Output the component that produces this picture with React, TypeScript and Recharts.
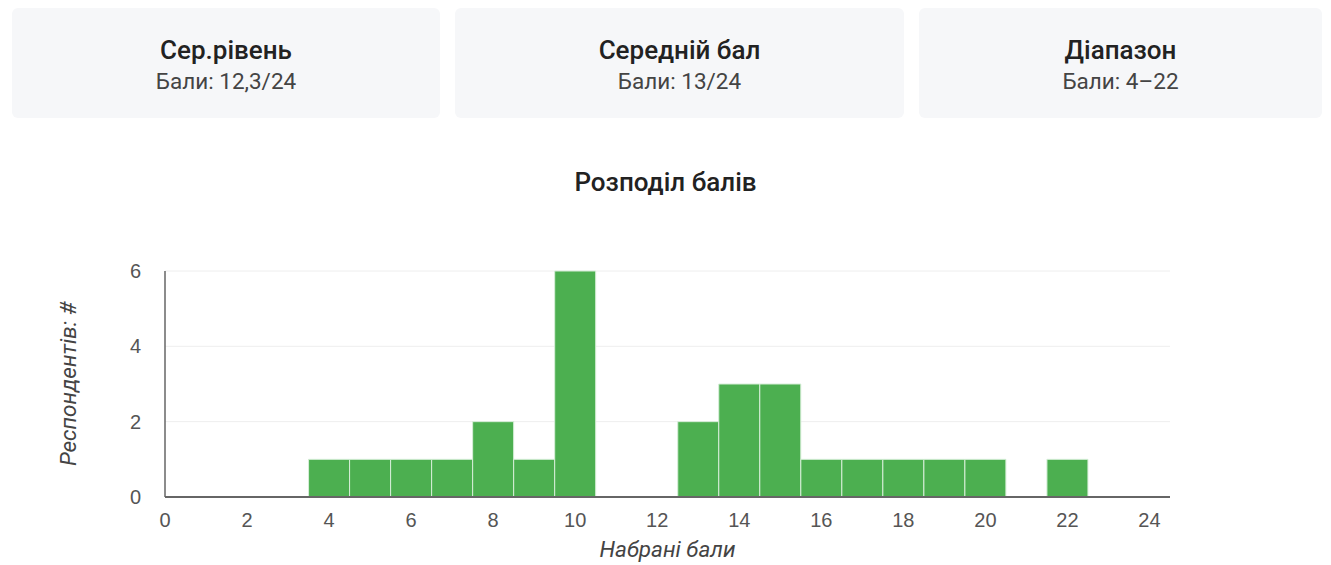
import { BarChart, Bar, XAxis, YAxis, CartesianGrid } from "recharts";

const SCORES = [0, 1, 2, 3, 4, 5, 6, 7, 8, 9, 10, 11, 12, 13, 14, 15, 16, 17, 18, 19, 20, 21, 22, 23, 24];
const COUNTS = [0, 0, 0, 0, 1, 1, 1, 1, 2, 1, 6, 0, 0, 2, 3, 3, 1, 1, 1, 1, 1, 0, 1, 0, 0];
const X_TICKS = [0, 2, 4, 6, 8, 10, 12, 14, 16, 18, 20, 22, 24];
const Y_TICKS = [0, 2, 4, 6];

const CARDS = [
    { title: "Сер.рівень", sub: "Бали: 12,3/24", width: 428 },
    { title: "Середній бал", sub: "Бали: 13/24", width: 449 },
    { title: "Діапазон", sub: "Бали: 4–22", width: 403 },
];

const data = SCORES.map((s, i) => ({ score: s, count: COUNTS[i] }));

const labelStyle = { textAnchor: "middle", fontFamily: "Roboto, sans-serif", fontStyle: "italic", fontSize: 22.5, fill: "#444" };

// tick text drawn by hand so the font size sticks
function XTick(props: any) {
    const { x, y, payload } = props;
    return (
        <text x={x} y={y + 30} textAnchor="middle" fontFamily="Liberation Sans, Arial, sans-serif" fontSize={20} fill="#555">
            {payload.value}
        </text>
    );
}

function YTick(props: any) {
    const { x, y, payload } = props;
    return (
        <text x={x - 24} y={y + 7} textAnchor="end" fontFamily="Liberation Sans, Arial, sans-serif" fontSize={20} fill="#555">
            {payload.value}
        </text>
    );
}

export default function App() {
    return (
        <div style={{ width: 1315, fontFamily: "Roboto, sans-serif" }}>
            <div style={{ display: "flex", gap: 15, marginLeft: 4 }}>
                {CARDS.map((c) => (
                    <div
                        key={c.title}
                        style={{
                            width: c.width,
                            height: 110,
                            background: "#f6f7f9",
                            borderRadius: 6,
                            display: "flex",
                            flexDirection: "column",
                            alignItems: "center",
                            justifyContent: "center",
                        }}
                    >
                        <div style={{ fontSize: 26, fontWeight: 500, color: "#222", lineHeight: "30px", marginTop: 2 }}>{c.title}</div>
                        <div style={{ fontSize: 22.5, color: "#444", lineHeight: "26px", marginTop: 3 }}>{c.sub}</div>
                    </div>
                ))}
            </div>
            <div style={{ marginTop: 48, textAlign: "center", fontSize: 26, fontWeight: 500, color: "#222", lineHeight: "32px" }}>
                Розподіл балів
            </div>
            <BarChart
                width={1315}
                height={357}
                data={data}
                margin={{ top: 63, right: 153, bottom: 38, left: 97 }}
                style={{ marginTop: 10 }}
            >
                <CartesianGrid vertical={false} stroke="#eeeeee" />
                <XAxis
                    dataKey="score"
                    type="number"
                    domain={[0, 24.5]}
                    ticks={X_TICKS}
                    interval={0}
                    allowDataOverflow
                    tickLine={false}
                    tickSize={0}
                    tickMargin={0}
                    axisLine={{ stroke: "#666", strokeWidth: 2 }}
                    tick={<XTick />}
                    height={30}
                    label={{ value: "Набрані бали", position: "bottom", offset: 14, style: labelStyle }}
                />
                <YAxis
                    type="number"
                    domain={[0, 6]}
                    ticks={Y_TICKS}
                    width={60}
                    tickLine={false}
                    tickSize={0}
                    tickMargin={0}
                    axisLine={{ stroke: "#666", strokeWidth: 1.5 }}
                    tick={<YTick />}
                    label={{ value: "Респондентів: #", angle: -90, position: "left", offset: 37, style: labelStyle }}
                />
                <Bar dataKey="count" fill="#4caf50" stroke="#d7eed8" strokeWidth={1} barSize={41} isAnimationActive={false} />
            </BarChart>
        </div>
    );
}
